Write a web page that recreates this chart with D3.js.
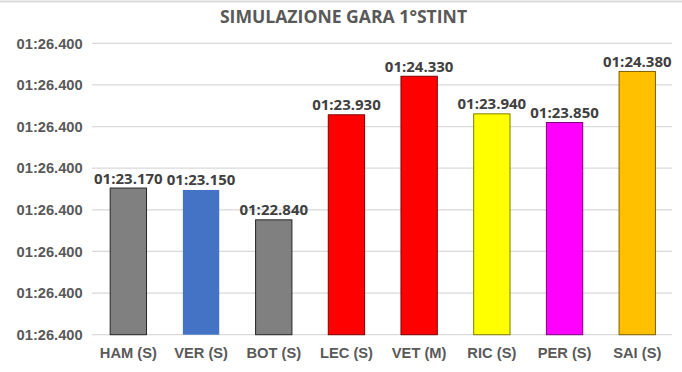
<!DOCTYPE html>
<html><head><meta charset="utf-8">
<script src="https://cdn.jsdelivr.net/npm/d3@7"></script>
<style>body{margin:0;background:#fff}svg{display:block}</style>
</head><body>
<svg id="c" width="682" height="372"></svg>
<script>
// Data (lap times in seconds)
const drivers = ["HAM (S)","VER (S)","BOT (S)","LEC (S)","VET (M)","RIC (S)","PER (S)","SAI (S)"];
const lapTimes = [83.170, 83.150, 82.840, 83.930, 84.330, 83.940, 83.850, 84.380];
const valueLabels = ["01:23.170","01:23.150","01:22.840","01:23.930","01:24.330","01:23.940","01:23.850","01:24.380"];
// Axis: Excel day units 0.000945 .. 0.000980 step 0.000005 (shown as 01:26.400)
const yTicks = [81.648, 82.080, 82.512, 82.944, 83.376, 83.808, 84.240, 84.672];
const yTickLabels = ["01:26.400","01:26.400","01:26.400","01:26.400","01:26.400","01:26.400","01:26.400","01:26.400"];
const title = "SIMULAZIONE GARA 1°STINT";

const fills = ["#808080","#4472C4","#808080","#FF0000","#FF0000","#FFFF00","#FF00FF","#FFC000"];
const strokes = ["#262626","none","#262626","#7F0000","#7F0000","#7F7F00","#7F007F","#7F6000"];

const svg = d3.select("#c");
const mLeft = 92, mRight = 673.6, mTop = 43.3, mBottom = 334.7;

const x = d3.scaleBand().domain(drivers).range([mLeft, mRight]).paddingInner(0.5).paddingOuter(0.25);
const y = d3.scaleLinear().domain([yTicks[0], yTicks[yTicks.length-1]]).range([mBottom, mTop]);

// top border line
svg.append("line").attr("x1",0).attr("x2",682).attr("y1",1.5).attr("y2",1.5)
  .attr("stroke","#d9d9d9").attr("stroke-width",2);

// title
svg.append("text").attr("x",343.5).attr("y",22.7).attr("text-anchor","middle")
  .attr("font-family","Open Sans").attr("font-weight","bold").attr("font-size",17.6)
  .attr("fill","#595959").text(title);

// gridlines
svg.append("g").selectAll("line").data(yTicks).join("line")
  .attr("x1",mLeft).attr("x2",672).attr("y1",d=>y(d)).attr("y2",d=>y(d))
  .attr("stroke","#d9d9d9").attr("stroke-width",1.2);

// y axis
const yAxis = d3.axisLeft(y).tickValues(yTicks).tickSize(0).tickPadding(0)
  .tickFormat((d,i)=>yTickLabels[i]);
const gy = svg.append("g").attr("transform",`translate(${82.7},0)`).call(yAxis);
gy.select(".domain").remove();
gy.selectAll("text").attr("font-family","Liberation Sans").attr("font-weight","bold")
  .attr("font-size",14.7).attr("fill","#595959");

// x axis
const xAxis = d3.axisBottom(x).tickSize(0).tickPadding(0);
const gx = svg.append("g").attr("transform",`translate(0,${mBottom})`).call(xAxis);
gx.select(".domain").remove();
gx.selectAll("text").attr("dy",null).attr("y",23.5).attr("font-family","Liberation Sans")
  .attr("font-weight","bold").attr("font-size",14.7).attr("fill","#595959");

// bars
svg.append("g").selectAll("rect").data(lapTimes).join("rect")
  .attr("x",(d,i)=>x(drivers[i])).attr("width",x.bandwidth())
  .attr("y",d=>y(d)).attr("height",d=>mBottom-y(d))
  .attr("fill",(d,i)=>fills[i]).attr("stroke",(d,i)=>strokes[i]).attr("stroke-width",1);

// value labels
svg.append("g").selectAll("text").data(lapTimes).join("text")
  .attr("x",(d,i)=>x(drivers[i])+x.bandwidth()/2).attr("y",d=>y(d)-4.5)
  .attr("text-anchor","middle").attr("font-family","Open Sans").attr("font-weight","bold")
  .attr("font-size",15).attr("fill","#404040").text((d,i)=>valueLabels[i]);
</script>
</body></html>
